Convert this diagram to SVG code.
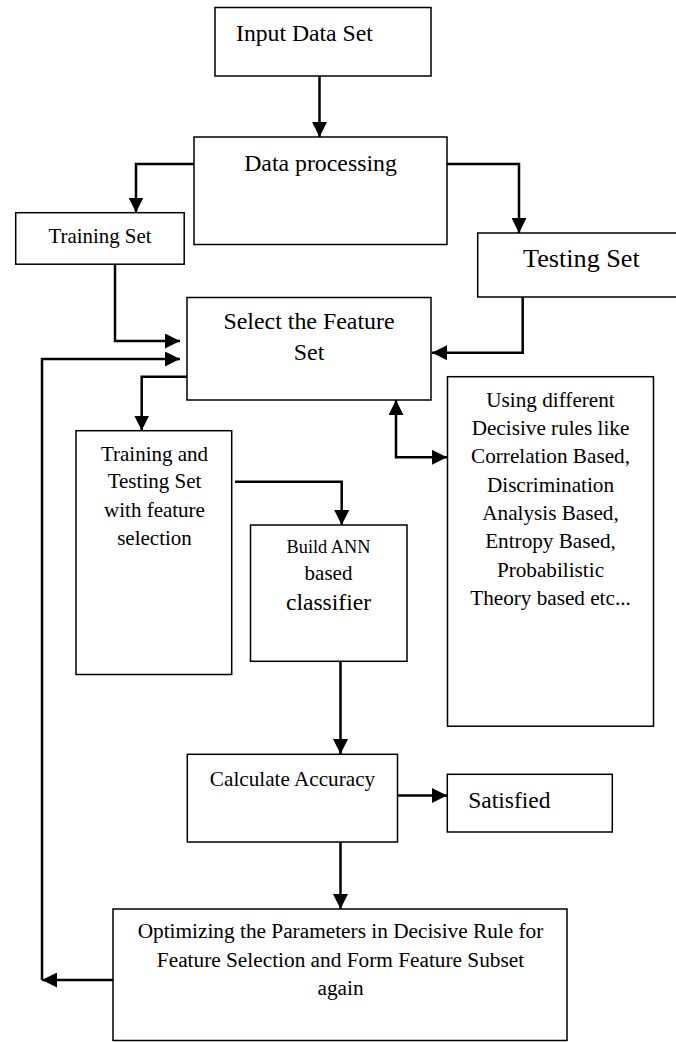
<svg xmlns="http://www.w3.org/2000/svg" width="676" height="1042" viewBox="0 0 676 1042" font-family="'Liberation Serif', 'Times New Roman', serif">
<defs>
<marker id="ah" markerUnits="userSpaceOnUse" markerWidth="15" markerHeight="15" refX="15" refY="7.5" orient="auto-start-reverse" viewBox="0 0 15 15">
<path d="M0,0 L15,7.5 L0,15 z" fill="#000"/>
</marker>
<style>
.box{fill:#fff;stroke:#000;stroke-width:1.5}
.c{fill:none;stroke:#000;stroke-width:2.5}
.a{marker-end:url(#ah)}
text{font-family:'Liberation Serif','Times New Roman',serif;fill:#000}
.m{text-anchor:middle}
</style>
</defs>
<rect width="676" height="1042" fill="#fff"/>
<g id="connectors">
<path class="c a" d="M319.5,76 V137"/>
<path class="c a" d="M194,164 H136 V212.5"/>
<path class="c a" d="M447,164 H519 V233"/>
<path class="c a" d="M115,264 V341 H180"/>
<path class="c a" d="M522.7,297 V352.7 H432"/>
<path class="c a" d="M42,980 V359 H180"/>
<path class="c a" d="M187,376.7 H141.7 V430.5"/>
<path class="c a" d="M396,400 V457.3 H447" style="marker-start:url(#ah)"/>
<path class="c a" d="M235,481.7 H341.7 V525"/>
<path class="c a" d="M340.5,661 V754"/>
<path class="c a" d="M396,795.5 H447"/>
<path class="c a" d="M340.5,842 V909"/>
<path class="c a" d="M113,980 H42"/>
</g>
<g id="input">
<rect class="box" x="215" y="7.5" width="216" height="68.5"/>
<text x="236" y="40.7" font-size="23.7">Input Data Set</text>
</g>
<g id="processing">
<rect class="box" x="194" y="137" width="253" height="107.5"/>
<text class="m" x="320.5" y="171" font-size="23.8">Data processing</text>
</g>
<g id="training">
<rect class="box" x="15.7" y="212.7" width="168.5" height="51.5"/>
<text class="m" x="100" y="243" font-size="20.9">Training Set</text>
</g>
<g id="testing">
<rect class="box" x="477.7" y="233" width="200" height="64"/>
<text x="523" y="267.3" font-size="26.2">Testing Set</text>
</g>
<g id="select">
<rect class="box" x="187" y="297.5" width="244" height="102.5"/>
<text class="m" x="309" y="329" font-size="23.9">Select the Feature</text>
<text class="m" x="309" y="360" font-size="23.9">Set</text>
</g>
<g id="rules" font-size="21.2">
<rect class="box" x="447.5" y="376.7" width="206" height="349.5"/>
<text class="m" x="550.5" y="406.7">Using different</text>
<text class="m" x="550.5" y="435">Decisive rules like</text>
<text class="m" x="550.5" y="463.3">Correlation Based,</text>
<text class="m" x="550.5" y="491.7">Discrimination</text>
<text class="m" x="550.5" y="520">Analysis Based,</text>
<text class="m" x="550.5" y="548.3">Entropy Based,</text>
<text class="m" x="550.5" y="576.7">Probabilistic</text>
<text class="m" x="550.5" y="605">Theory based etc...</text>
</g>
<g id="ttfs" font-size="21">
<rect class="box" x="76" y="430.7" width="155.7" height="243.8"/>
<text class="m" x="154.5" y="460.7">Training and</text>
<text class="m" x="154.5" y="488.3">Testing Set</text>
<text class="m" x="154.5" y="516.7">with feature</text>
<text class="m" x="154.5" y="545">selection</text>
</g>
<g id="build">
<rect class="box" x="250.5" y="525" width="156.5" height="136.3"/>
<text class="m" x="328.5" y="553" font-size="18.3">Build ANN</text>
<text class="m" x="328.5" y="580" font-size="21">based</text>
<text class="m" x="328.5" y="610" font-size="23.6">classifier</text>
</g>
<g id="accuracy">
<rect class="box" x="187.3" y="754.3" width="210.2" height="87.7"/>
<text class="m" x="292.5" y="785.7" font-size="21.2">Calculate Accuracy</text>
</g>
<g id="satisfied">
<rect class="box" x="447.3" y="774.3" width="165" height="57.7"/>
<text x="468.3" y="808.3" font-size="23.5">Satisfied</text>
</g>
<g id="optimizing" font-size="21.3">
<rect class="box" x="113" y="909" width="454" height="131.5"/>
<text class="m" x="340.5" y="938.3">Optimizing the Parameters in Decisive Rule for</text>
<text class="m" x="340.5" y="966.7">Feature Selection and Form Feature Subset</text>
<text class="m" x="340.5" y="995">again</text>
</g>
</svg>
